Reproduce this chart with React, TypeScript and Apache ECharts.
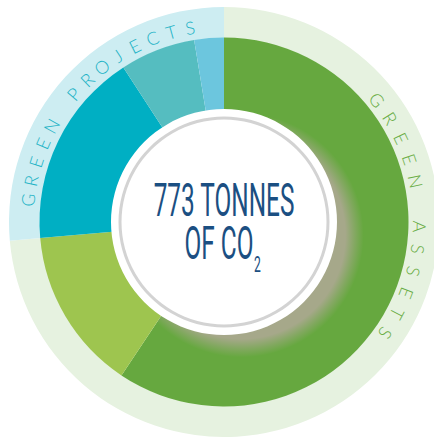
import React, { useEffect, useRef } from "react";
import * as echarts from "echarts";

const innerCategories = ["Green assets A", "Green assets B", "Green projects A", "Green projects B", "Green projects C"];
const innerValues = [459, 110, 133, 51, 20];
const innerColors = ["#66a83f", "#9ec54f", "#00afc3", "#55bdc0", "#6cc6de"];
const outerCategories = ["GREEN ASSETS", "GREEN PROJECTS"];
const outerValues = [569, 204];
const outerColors = ["#e6f2e0", "#cdedf2"];
const centerLine1 = "773 TONNES";
const centerLine2 = "OF CO";
const centerSub = "2";

const CX = 224;
const CY = 222;

function arcLetters(text: string, r: number, startDeg: number, stepDeg: number, color: string) {
  const out: any[] = [];
  for (let i = 0; i < text.length; i++) {
    const ch = text[i];
    if (ch === " ") continue;
    const th = ((startDeg + i * stepDeg) * Math.PI) / 180;
    out.push({
      type: "text",
      x: CX + r * Math.sin(th),
      y: CY - r * Math.cos(th),
      rotation: -th,
      z: 100,
      silent: true,
      style: {
        text: ch,
        fill: color,
        font: "300 18px Lato, 'Open Sans', sans-serif",
        textAlign: "center",
        textVerticalAlign: "middle",
      },
    });
  }
  return out;
}

export default function App() {
  const ref = useRef<HTMLDivElement>(null);
  useEffect(() => {
    document.body.style.margin = "0";
    if (!ref.current) return;
    const chart = echarts.init(ref.current, null, { renderer: "svg" });
    const shDir = (127 * Math.PI) / 180;
    const shOff = 22;
    const shade = {
      type: "radial",
      x: CX + shOff * Math.sin(shDir),
      y: CY - shOff * Math.cos(shDir),
      r: 122,
      global: true,
      colorStops: [
        { offset: 0, color: "rgba(166,168,138,1)" },
        { offset: 0.85, color: "rgba(166,168,138,1)" },
        { offset: 0.93, color: "rgba(166,168,138,0.45)" },
        { offset: 1, color: "rgba(166,168,138,0)" },
      ],
    };
    chart.setOption({
      animation: false,
      backgroundColor: "#ffffff",
      series: [
        {
          type: "pie",
          name: "outer",
          center: [CX, CY],
          radius: [184, 215],
          startAngle: 90,
          silent: true,
          label: { show: false },
          labelLine: { show: false },
          z: 1,
          data: outerCategories.map((n, i) => ({ name: n, value: outerValues[i], itemStyle: { color: outerColors[i] } })),
        },
        {
          type: "pie",
          name: "inner",
          center: [CX, CY],
          radius: [112, 184.5],
          startAngle: 90,
          silent: true,
          label: { show: false },
          labelLine: { show: false },
          z: 2,
          data: innerCategories.map((n, i) => ({ name: n, value: innerValues[i], itemStyle: { color: innerColors[i] } })),
        },
        {
          type: "pie",
          name: "shade",
          center: [CX, CY],
          radius: [112, 184],
          startAngle: 90,
          silent: true,
          label: { show: false },
          labelLine: { show: false },
          z: 3,
          data: innerCategories.map((n, i) => ({
            name: n,
            value: innerValues[i],
            itemStyle: { color: i === 0 ? shade : "rgba(0,0,0,0)" },
          })),
        },
        {
          type: "pie",
          name: "disc",
          center: [CX, CY],
          radius: [0, 113],
          silent: true,
          label: { show: false },
          labelLine: { show: false },
          z: 4,
          data: [{ value: 1, itemStyle: { color: "#ffffff" } }],
        },
        {
          type: "pie",
          name: "rim",
          center: [CX, CY],
          radius: [102.5, 105.5],
          silent: true,
          label: { show: false },
          labelLine: { show: false },
          z: 5,
          data: [{ value: 1, itemStyle: { color: "#d3d3d3" } }],
        },
      ],
      graphic: [
        ...arcLetters(outerCategories[0], 196, 51.4, 6.65, "#69ad45"),
        ...arcLetters(outerCategories[1], 197.5, 276.4, 5.67, "#1db3c6"),
        {
          type: "text",
          x: CX,
          y: 223,
          scaleX: 0.53,
          z: 100,
          silent: true,
          style: {
            text: centerLine1,
            fill: "#1b4f82",
            font: "400 46px Roboto, sans-serif",
            textAlign: "center",
            textVerticalAlign: "bottom",
          },
        },
        {
          type: "text",
          x: 219,
          y: 266,
          scaleX: 0.53,
          z: 100,
          silent: true,
          style: {
            text: centerLine2,
            fill: "#1b4f82",
            font: "400 46px Roboto, sans-serif",
            textAlign: "center",
            textVerticalAlign: "bottom",
          },
        },
        {
          type: "text",
          x: 254,
          y: 276,
          scaleX: 0.55,
          z: 100,
          silent: true,
          style: {
            text: centerSub,
            fill: "#1b4f82",
            font: "400 22px Roboto, sans-serif",
            textAlign: "left",
            textVerticalAlign: "bottom",
          },
        },
      ],
    });
    return () => chart.dispose();
  }, []);
  return <div ref={ref} style={{ width: 434, height: 437 }} />;
}
